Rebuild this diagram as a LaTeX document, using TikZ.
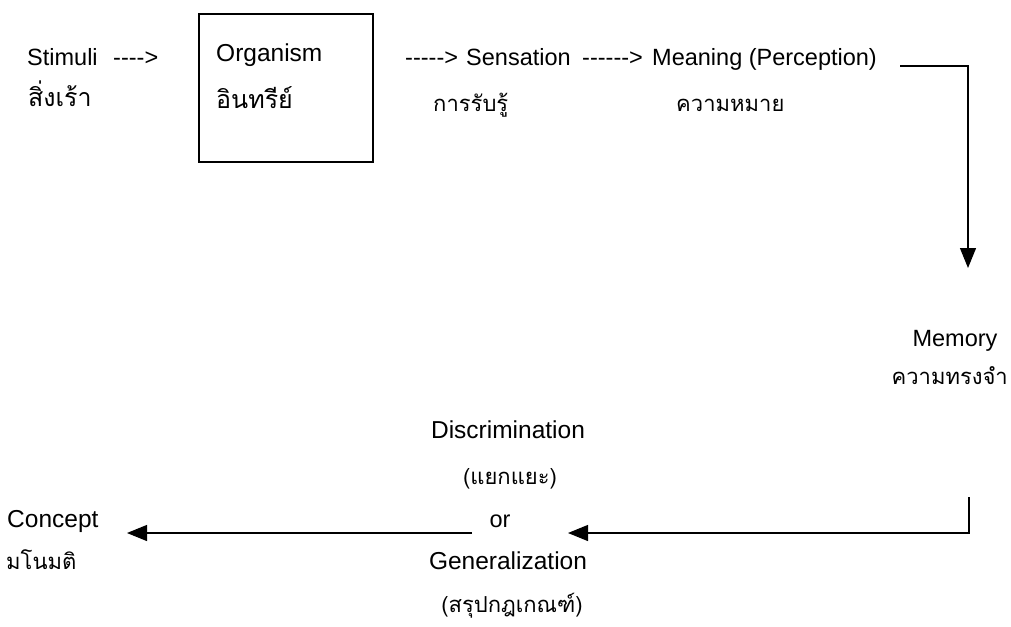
\documentclass[tikz,border=0pt]{standalone}
\usepackage{fontspec}
\setmainfont{Liberation Sans}
\newfontfamily\thaifont[Script=Thai]{Loma}
\usetikzlibrary{arrows.meta}
\begin{document}
\begin{tikzpicture}[x=1pt,y=-1pt,
  lbl/.style={inner sep=0pt,font=\fontsize{23.5}{28}\selectfont},
  biglbl/.style={inner sep=0pt,font=\fontsize{24.5}{29}\selectfont},
  th/.style={inner sep=0pt,font=\fontsize{22}{27}\selectfont\thaifont},
  bigth/.style={inner sep=0pt,font=\fontsize{25}{30}\selectfont\thaifont},
  link/.style={line width=1.2pt},
  tip/.style={-{Triangle[length=20pt,width=16pt]}}]
\useasboundingbox (0,0) rectangle (1011,626);

% first row: stimulus, organism, sensation, meaning
\node[lbl,anchor=base west] (stim) at (27,66) {Stimuli};
\node[lbl,anchor=base west] (stimd) at (113,66) {-{}-{}-{}->};
\node[bigth,anchor=base west] (stimth) at (28,106) {สิ่งเร้า};

\node[draw,line width=1.2pt,minimum width=174pt,minimum height=148pt,inner sep=0pt] (org) at (286,88) {};
\node[biglbl,anchor=base west] (orgen) at (216,62) {Organism};
\node[bigth,anchor=base west] (orgth) at (216,108) {อินทรีย์};

\node[lbl,anchor=base west] (sensd) at (405,66) {-{}-{}-{}-{}->};
\node[lbl,anchor=base west] (sens) at (466,66) {Sensation};
\node[lbl,anchor=base west] (meand) at (582,66) {-{}-{}-{}-{}-{}->};
\node[lbl,anchor=base west] (mean) at (652,66) {Meaning (Perception)};
\node[th,anchor=base west] (sensth) at (433,111) {การรับรู้};
\node[th,anchor=base west] (meanth) at (676,111) {ความหมาย};

% memory
\node[lbl,anchor=base] (mem) at (955,346) {Memory};
\node[th,anchor=base east] (memth) at (1008,384) {ความทรงจำ};

% discrimination or generalization
\node[biglbl,anchor=base] (disc) at (508,438) {Discrimination};
\node[th,anchor=base] (discth) at (510,484) {(แยกแยะ)};
\node[lbl,anchor=base] (or) at (500,527) {or};
\node[biglbl,anchor=base] (gen) at (508,569) {Generalization};
\node[th,anchor=base] (genth) at (512,612) {(สรุปกฎเกณฑ์)};

% concept
\node[biglbl,anchor=base west] (con) at (7,527) {Concept};
\node[th,anchor=base west] (conth) at (6,569) {มโนมติ};

% connectors
\coordinate (m1) at (900,66);
\coordinate (m2) at (968,66);
\coordinate (m3) at (968,268);
\draw[link,tip] (m1) -- (m2) -- (m3);

\coordinate (g1) at (969,497);
\coordinate (g2) at (969,533);
\coordinate (g3) at (568,533);
\draw[link,tip] (g1) -- (g2) -- (g3);

\coordinate (c1) at (472,533);
\coordinate (c2) at (127,533);
\draw[link,tip] (c1) -- (c2);
\end{tikzpicture}
\end{document}
